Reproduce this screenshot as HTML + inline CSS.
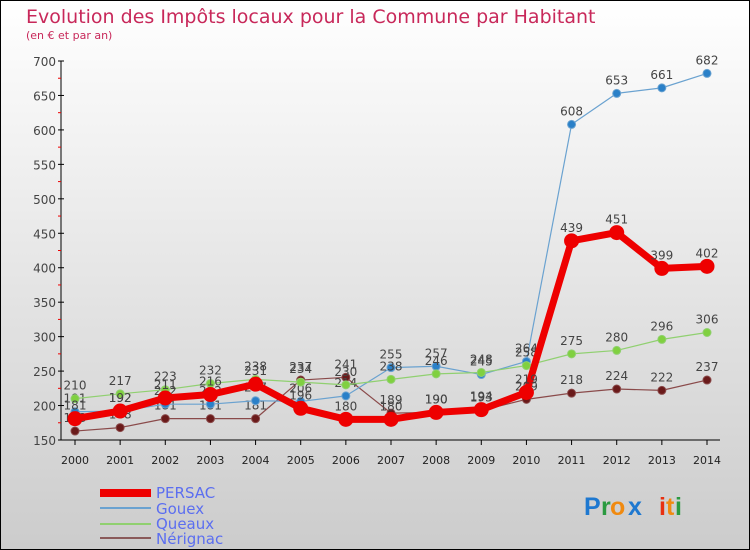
<!DOCTYPE html>
<html><head><meta charset="utf-8"><style>
body{margin:0;width:750px;height:550px;overflow:hidden}
svg{display:block;font-family:"DejaVu Sans","Liberation Sans",sans-serif}
</style></head><body>
<svg id="c" width="750" height="550" xmlns="http://www.w3.org/2000/svg">
<defs><linearGradient id="bg" x1="0" y1="0" x2="0" y2="1"><stop offset="0" stop-color="#ffffff"/><stop offset="1" stop-color="#cccccc"/></linearGradient></defs>
<rect x="0.5" y="0.5" width="749" height="549" fill="url(#bg)" stroke="#000"/>
<text x="26" y="23" font-size="19" fill="#c8285a">Evolution des Impôts locaux pour la Commune par Habitant</text>
<text x="26" y="39" font-size="11" fill="#c8285a">(en € et par an)</text>
<g id="axes"></g><g id="series"></g>
<g>
<rect x="100" y="489" width="51" height="8" fill="#ee0000"/>
<text x="156" y="498" font-size="15" fill="#5b6ef0">PERSAC</text>
<rect x="100" y="507" width="51" height="2" fill="#6aa2d0"/>
<text x="156" y="514" font-size="15" fill="#5b6ef0">Gouex</text>
<rect x="100" y="523" width="51" height="2" fill="#90d070"/>
<text x="156" y="529" font-size="15" fill="#5b6ef0">Queaux</text>
<rect x="100" y="537" width="51" height="2" fill="#8a5a5a"/>
<text x="156" y="544" font-size="15" fill="#5b6ef0">Nérignac</text>
</g>
<g font-size="25" font-family="Liberation Sans, sans-serif" font-weight="bold">
<text x="584" y="515" fill="#1e78d0">P</text><text x="601" y="515" fill="#2a9a40">r</text><text x="610" y="515" fill="#f08a10">o</text><text x="628" y="515" fill="#1e78d0">x</text><text x="659" y="515" fill="#e83010">i</text><text x="666" y="515" fill="#f08a10">t</text><text x="675" y="515" fill="#2a9a40">i</text>
</g>
</svg>
<script>
const years=[2000,2001,2002,2003,2004,2005,2006,2007,2008,2009,2010,2011,2012,2013,2014];
const persac=[181,192,211,216,231,196,180,180,190,194,219,439,451,399,402];
const gouex=[191,192,202,202,207,206,214,255,257,245,264,608,653,661,682];
const queaux=[210,217,223,232,238,234,230,238,246,248,258,275,280,296,306];
const nerignac=[163,168,181,181,181,237,241,189,190,193,209,218,224,222,237];
const yTicks=[150,200,250,300,350,400,450,500,550,600,650,700];
const NS="http://www.w3.org/2000/svg";
const x=i=>75+i*(707-75)/(years.length-1);
const y=v=>440-(v-150)*(440-61)/550;
function mk(t,a,p){const e=document.createElementNS(NS,t);for(const k in a)e.setAttribute(k,a[k]);p.appendChild(e);return e;}
const ax=document.getElementById('axes');
const yl=mk('line',{x1:61,y1:61,x2:61,y2:440,stroke:'#000'},ax);


const xl=mk('line',{x1:61,y1:440,x2:720,y2:440,stroke:'#000'},ax);


yTicks.forEach((v,k)=>{
  mk('line',{x1:58,x2:64,y1:y(v),y2:y(v),stroke:'#000'},ax);
  if(k<yTicks.length-1)mk('line',{x1:58,x2:61,y1:y(v+25),y2:y(v+25),stroke:'#e00'},ax);
  const t=mk('text',{x:56,y:y(v)+5,'text-anchor':'end','font-size':12,fill:'#444'},ax);
  t.textContent=v;
  
  
});
years.forEach((yr,i)=>{
  mk('line',{x1:x(i),x2:x(i),y1:440,y2:445,stroke:'#000'},ax);
  const t=mk('text',{x:x(i),y:464,'text-anchor':'middle','font-size':11,fill:'#222'},ax);
  t.textContent=yr;
  
  
});
const sg=document.getElementById('series');
function draw(data,name,col,w,r,dot){
  const g=mk('g',{},sg);
  
  
  const l=mk('polyline',{points:data.map((v,i)=>x(i)+','+y(v)).join(' '),fill:'none',stroke:col,'stroke-width':w,'stroke-linejoin':'round'},g);
  
  
  data.forEach((v,i)=>{
    const c=mk('circle',{cx:x(i),cy:y(v),r:r,fill:dot,stroke:col,'stroke-width':1},g);
    
    
    const t=mk('text',{x:x(i),y:y(v)-9,'text-anchor':'middle','font-size':12,fill:'#444'},g);
    t.textContent=v;
    
    
  });
}
draw(nerignac,'nerignac','#8a4a4a',1.2,4,'#6a1a1a');
draw(gouex,'gouex','#6aa2d0',1.2,4,'#2a80c8');
draw(queaux,'queaux','#90d070',1.2,4,'#80d040');
draw(persac,'persac','#ee0000',7,7,'#ee0000');
</script>
</body></html>
